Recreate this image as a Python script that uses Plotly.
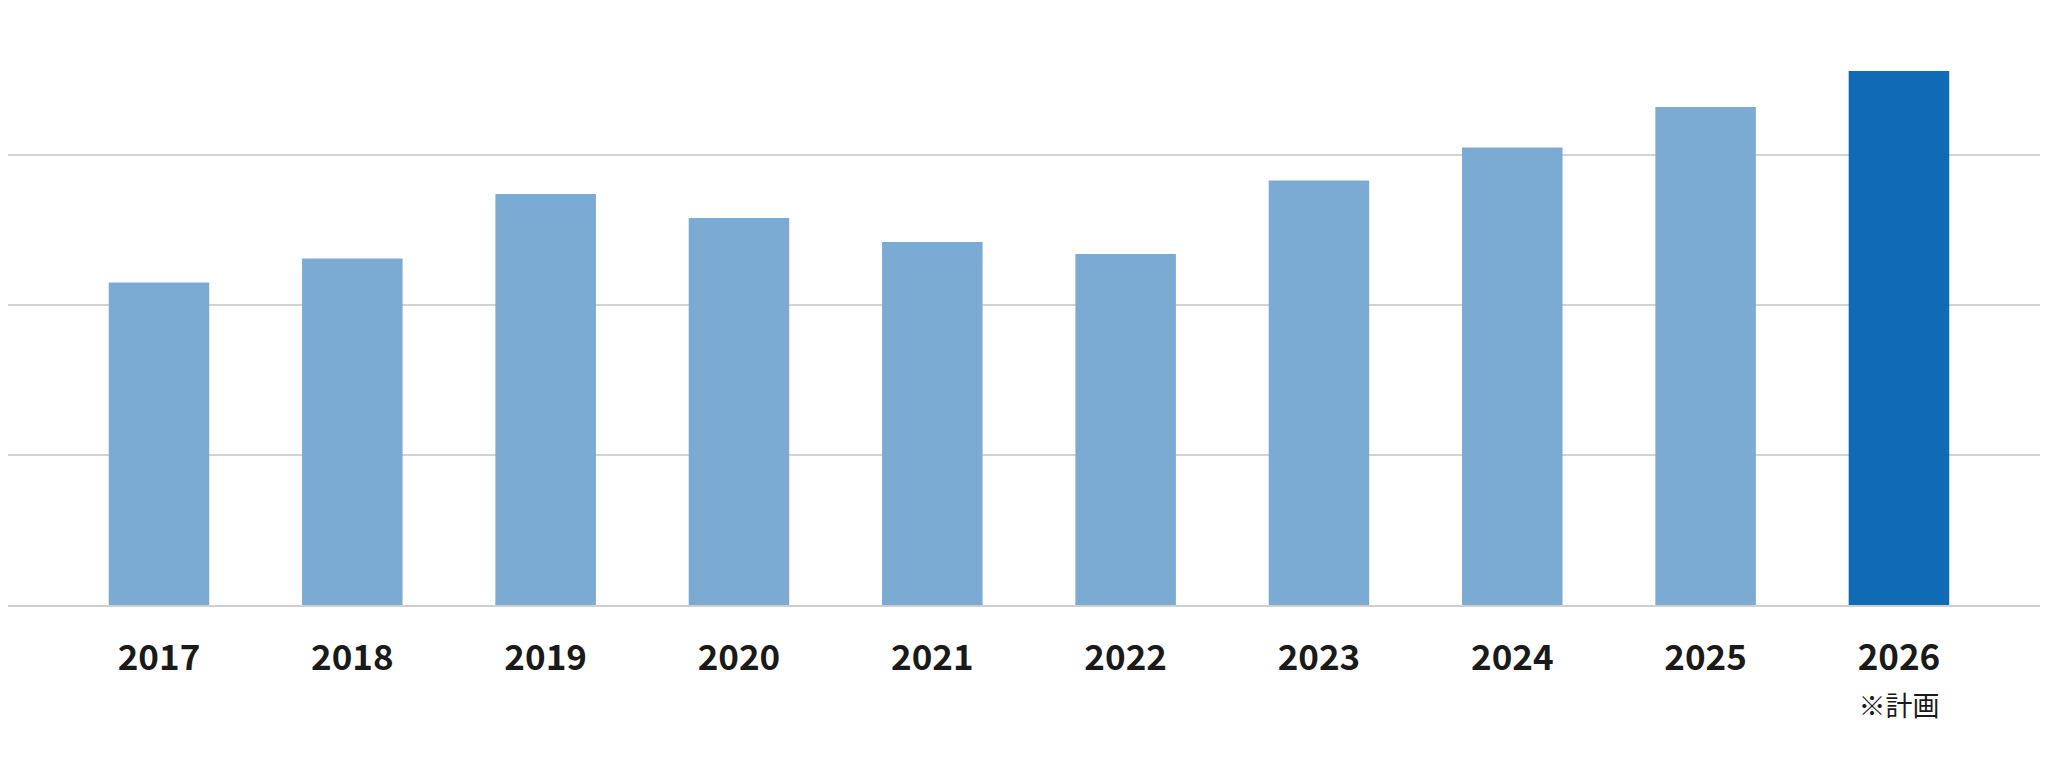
import plotly.graph_objects as go

years = ["2017", "2018", "2019", "2020", "2021", "2022", "2023", "2024", "2025", "2026"]
values = [2.15, 2.31, 2.74, 2.58, 2.42, 2.34, 2.83, 3.05, 3.32, 3.56]
tick_labels = ["<b>%s</b>" % y for y in years[:-1]] + [
    "<b>2026</b><br><span style='font-size:27px'>※計画</span>"
]
bar_colors = ["#7babd3"] * 9 + ["#116bb4"]

fig = go.Figure()
fig.add_trace(go.Bar(
    x=years,
    y=values,
    marker_color=bar_colors,
    marker_line_width=0,
))

# the page body has an 8px margin, so the figure is a bit smaller than the window
fig.update_layout(
    width=2040, height=760,
    margin=dict(l=0, r=0, t=0, b=163),
    paper_bgcolor="white",
    plot_bgcolor="white",
    bargap=0.48,
    showlegend=False,
    font=dict(family="Noto Sans CJK JP", color="#1a1a1a"),
)
fig.update_xaxes(
    type="category",
    range=[-0.781, 9.771],
    tickvals=years,
    ticktext=tick_labels,
    tickfont=dict(size=35, family="Noto Sans CJK JP", color="#1a1a1a"),
    ticklabelstandoff=21,
    showline=True, linecolor="#cfcfcf", linewidth=2,
    showgrid=False,
)
fig.update_yaxes(
    range=[0, 3.98],
    tickvals=[1, 2, 3],
    showticklabels=False,
    gridcolor="#d3d3d3", gridwidth=1.5,
    zeroline=False,
)

fig.write_html("out.html")
